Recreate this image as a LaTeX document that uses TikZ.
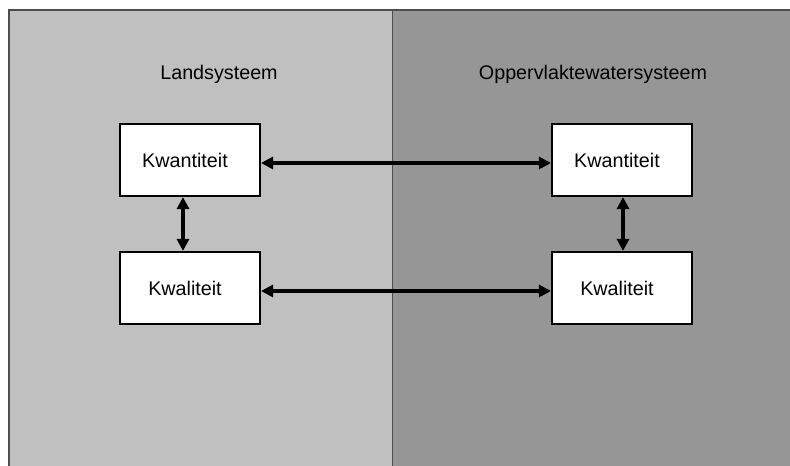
\documentclass[tikz,border=0pt]{standalone}
\usepackage{fontspec}
\setmainfont{Liberation Sans}
\usetikzlibrary{arrows.meta}

\definecolor{landgrey}{RGB}{192,192,192}
\definecolor{watergrey}{RGB}{150,150,150}
\definecolor{edgegrey}{RGB}{77,77,77}

\tikzset{every picture/.style={line width=0.75pt}}
\tikzset{
	sysbox/.style={draw=black, fill=white, line width=1.6pt, minimum width=105pt, minimum height=54pt, inner sep=0pt, font=\fontsize{14.8}{17}\selectfont},
	panellabel/.style={inner sep=0.75pt, font=\fontsize{14.8}{17}\selectfont},
	link/.style={line width=3pt, {Triangle[length=9pt,width=9pt]}-{Triangle[length=9pt,width=9pt]}}
}

\begin{document}
\begin{tikzpicture}[x=0.75pt,y=0.75pt,yscale=-1,xscale=1]
	\useasboundingbox (0,0) rectangle (790,466);
	
	%Shape: Panel land
	\fill [landgrey] (9,10) rectangle (392,466);
	%Shape: Panel water
	\fill [watergrey] (392,10) rectangle (790,466);
	%Straight Lines
	\draw [edgegrey, line width=1.3pt] (9,466) -- (9,10) -- (790,10);
	\draw [edgegrey, line width=1.3pt] (392.5,10) -- (392.5,466);
	
	% Text Node
	\node (landtitle) [panellabel] at (219,74) {Landsysteem};
	% Text Node
	\node (watertitle) [panellabel] at (593,74) {Oppervlaktewatersysteem};
	
	%Shape: Rectangle
	\node (lquant) [sysbox] at (190,160) {Kwantiteit\hspace*{7.5pt}};
	\node (lqual) [sysbox] at (190,288) {Kwaliteit\hspace*{7.5pt}};
	\node (rquant) [sysbox] at (622,160) {Kwantiteit\hspace*{7.5pt}};
	\node (rqual) [sysbox] at (622,288) {Kwaliteit\hspace*{7.5pt}};
	
	%Straight Lines
	\draw [link] ([yshift=2.25pt]lquant.east) -- ([yshift=2.25pt]rquant.west);
	\draw [link] ([yshift=2.25pt]lqual.east) -- ([yshift=2.25pt]rqual.west);
	\draw [link] ([xshift=-5.25pt]lquant.south) -- ([xshift=-5.25pt]lqual.north);
	\draw [link] ([xshift=0.75pt]rquant.south) -- ([xshift=0.75pt]rqual.north);
	
\end{tikzpicture}
\end{document}
